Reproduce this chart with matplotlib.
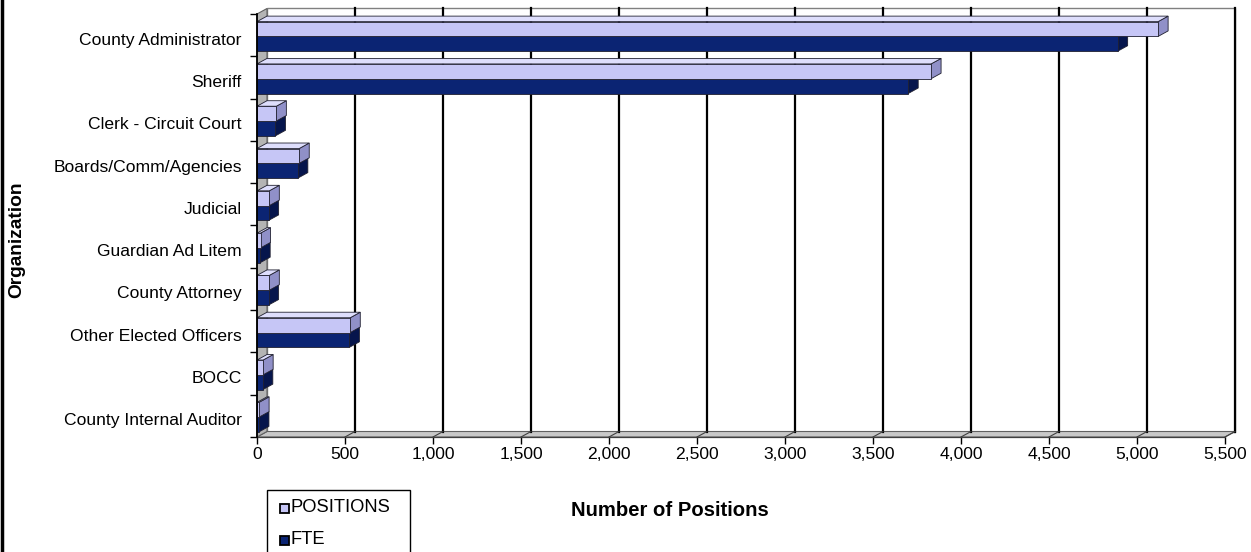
import matplotlib
matplotlib.use("Agg")
import matplotlib.pyplot as plt
from matplotlib.patches import Polygon, Rectangle
from matplotlib.lines import Line2D
from matplotlib.transforms import offset_copy

plt.rcParams['font.family'] = ['Liberation Sans', 'DejaVu Sans']

organizations = [
    "County Administrator", "Sheriff", "Clerk - Circuit Court",
    "Boards/Comm/Agencies", "Judicial", "Guardian Ad Litem",
    "County Attorney", "Other Elected Officers", "BOCC",
    "County Internal Auditor",
]
positions = [5120, 3830, 110, 240, 70, 20, 70, 530, 35, 12]
fte = [4890, 3700, 105, 232, 66, 18, 66, 525, 33, 11]

x_ticks = list(range(0, 5501, 500))
x_max = 5500

W, H = 1251, 552
fig = plt.figure(figsize=(W / 100, H / 100), dpi=100)
ax_l, ax_r, ax_t, ax_b = 257, 1225, 14, 437
ax = fig.add_axes([ax_l / W, (H - ax_b) / H, (ax_r - ax_l) / W, (ax_b - ax_t) / H])
n = len(organizations)
ax.set_xlim(0, x_max)
ax.set_ylim(0, n)

# 3-D depth expressed in data units (about 10 px right, 5.5 px up)
ddx = 10 * x_max / (ax_r - ax_l)
ddy = 5.5 * n / (ax_b - ax_t)

def poly(pts, fc, ec, lw=0.6, z=1):
    p = Polygon(pts, closed=True, facecolor=fc, edgecolor=ec, linewidth=lw,
                clip_on=False, zorder=z, joinstyle='miter')
    ax.add_patch(p)

# back wall, floor and left wall
poly([(ddx, ddy), (x_max + ddx, ddy), (x_max + ddx, n + ddy), (ddx, n + ddy)],
     'white', '#808080', 1.0, 0)
poly([(0, 0), (x_max, 0), (x_max + ddx, ddy), (ddx, ddy)], '#c8c8c8', '#606060', 0.8, 0.5)
poly([(0, 0), (0, n), (ddx, n + ddy), (ddx, ddy)], '#b4b4b4', '#606060', 0.8, 0.5)
for xv in x_ticks[1:]:
    ax.add_line(Line2D([xv + ddx, xv + ddx], [ddy, n + ddy], color='black', lw=1.6,
                       clip_on=False, zorder=0.6))
    ax.add_line(Line2D([xv, xv + ddx], [0, ddy], color='#404040', lw=0.8,
                       clip_on=False, zorder=0.6))

light = dict(front='#c6c6f6', top='#dedefc', side='#9090c8')
dark = dict(front='#0b2473', top='#23398a', side='#06154c')

def bar3d(x, y0, h, cols, z):
    poly([(x, y0), (x + ddx, y0 + ddy), (x + ddx, y0 + h + ddy), (x, y0 + h)],
         cols['side'], '#202030', 0.6, z)
    poly([(0, y0 + h), (x, y0 + h), (x + ddx, y0 + h + ddy), (ddx, y0 + h + ddy)],
         cols['top'], '#202030', 0.6, z)
    poly([(0, y0), (x, y0), (x, y0 + h), (0, y0 + h)], cols['front'], '#202030', 0.6, z)

bh = 0.35
for i in range(n - 1, -1, -1):
    top = n - i
    z = 2 + (n - i)
    bar3d(fte[i], top - 0.88, bh, dark, z)
    bar3d(positions[i], top - 0.53, bh, light, z + 0.5)

# axes, ticks and labels
for s in ('top', 'right'):
    ax.spines[s].set_visible(False)
ax.spines['left'].set_linewidth(1.3)
ax.spines['left'].set_zorder(50)
ax.spines['bottom'].set_color('#404040')
ax.spines['bottom'].set_linewidth(0.9)

fs = 12.6
ax.set_xticks(x_ticks)
ax.set_xticklabels([f"{v:,}" for v in x_ticks], fontsize=fs)
ax.tick_params(axis='x', length=5, width=1, pad=2)
ax.set_yticks(range(n + 1))
ax.set_yticklabels([])
ax.tick_params(axis='y', which='major', length=5, width=1)
ax.set_yticks([n - i - 0.5 for i in range(n)], minor=True)
ax.set_yticklabels(organizations, minor=True, fontsize=fs)
ax.tick_params(axis='y', which='minor', length=0)
shift = offset_copy(ax.get_yaxis_text1_transform(11)[0], fig=fig, x=0, y=-3.5, units='dots')
for lbl in ax.get_yticklabels(minor=True):
    lbl.set_transform(shift)
ax.patch.set_visible(False)

fig.text(670 / W, 1 - 510 / H, "Number of Positions", ha='center', va='center',
         fontsize=14.6, fontweight='bold')
fig.text(17 / W, 1 - 240 / H, "Organization", ha='center', va='center',
         rotation=90, fontsize=13.8, fontweight='bold')

# legend box
fig.patches.append(Rectangle((267 / W, -0.02), (410 - 267) / W, 0.02 + (H - 490) / H,
                             transform=fig.transFigure, facecolor='white',
                             edgecolor='black', linewidth=1.0))
for label, fc, yy in (("POSITIONS", light['front'], 508), ("FTE", dark['front'], 540)):
    fig.patches.append(Rectangle((280 / W, 1 - (yy + 4.5) / H), 9 / W, 9 / H,
                                 transform=fig.transFigure, facecolor=fc,
                                 edgecolor='black', linewidth=1.3))
    fig.text(290 / W, 1 - yy / H, label, ha='left', va='center', fontsize=13.2)

# chart border on the left edge
fig.add_artist(Line2D([1.5 / W, 1.5 / W], [0, 1], transform=fig.transFigure,
                      color='black', lw=2.5))

fig.savefig("out.png", dpi=100)
